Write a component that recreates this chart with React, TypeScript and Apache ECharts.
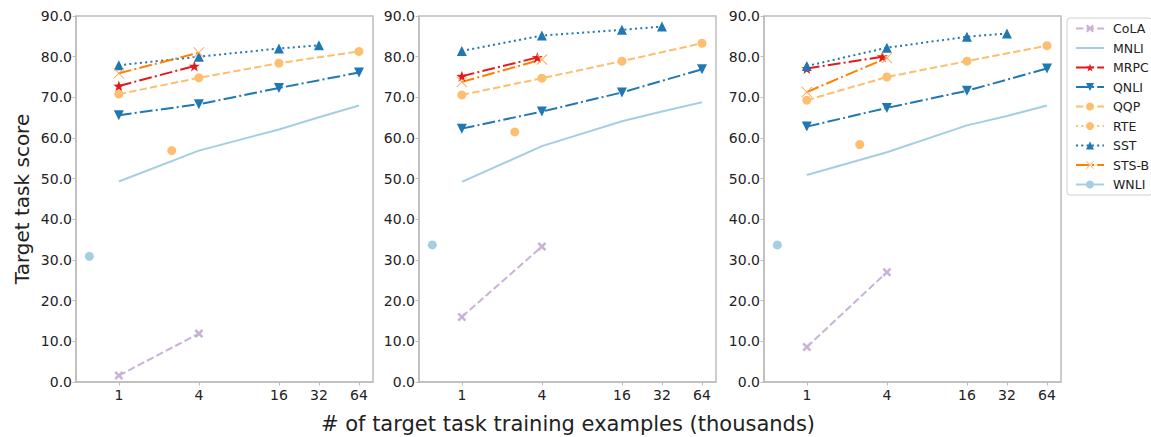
import React, { useEffect, useRef } from "react";
import * as echarts from "echarts";

// ---- data (thousands of examples on x, score on y) ----
const X_TICKS = [1, 4, 16, 32, 64];
const X_FULL = [1, 4, 16, 64];
const X_SST = [1, 4, 16, 32];
const X_MNLI = [1, 4, 16, 32, 64];
const X_MRPC = [1, 3.7];
const X_SHORT = [1, 4];
const X_RTE = [2.5];
const X_WNLI = [0.6];

const TASKS = ["CoLA", "MNLI", "MRPC", "QNLI", "QQP", "RTE", "SST", "STS-B", "WNLI"];

const COLA = [[1.6, 11.9], [16.0, 33.3], [8.6, 27.0]];
const MNLI = [[49.3, 56.9, 62.1, 65.1, 68.0], [49.2, 58.0, 64.1, 66.5, 68.8], [50.9, 56.5, 63.1, 65.4, 68.0]];
const MRPC = [[72.8, 77.7], [75.2, 79.8], [77.1, 80.0]];
const QNLI = [[65.6, 68.3, 72.3, 76.1], [62.3, 66.5, 71.2, 76.9], [62.8, 67.4, 71.6, 77.1]];
const QQP = [[70.8, 74.8, 78.4, 81.3], [70.6, 74.7, 78.9, 83.3], [69.3, 75.0, 78.9, 82.7]];
const RTE = [[56.9], [61.5], [58.4]];
const SST = [[77.9, 80.0, 82.0, 82.8], [81.4, 85.2, 86.6, 87.4], [77.7, 82.2, 84.9, 85.7]];
const STSB = [[75.9, 81.0], [73.8, 79.3], [71.3, 79.7]];
const WNLI = [[30.9], [33.7], [33.7]];

const FONT = "DejaVu Sans";
const AXIS_COLOR = "#bdbdbd";
const TEXT_COLOR = "#222";

const STAR = "path://M0,-10 L2.35,-3.24 L9.51,-3.09 L3.8,1.24 L5.88,8.09 L0,4 L-5.88,8.09 L-3.8,1.24 L-9.51,-3.09 L-2.35,-3.24 Z";
const FAT_X = "path://M-3,-5 L0,-2 L3,-5 L5,-3 L2,0 L5,3 L3,5 L0,2 L-3,5 L-5,3 L-2,0 L-5,-3 Z";
const THIN_X = "path://M-5,-4.4 L-4.4,-5 L0,-0.6 L4.4,-5 L5,-4.4 L0.6,0 L5,4.4 L4.4,5 L0,0.6 L-4.4,5 L-5,4.4 L-0.6,0 Z";
const LINE_ICON = "path://M0,0 L28,0 L28,2 L0,2 Z";

const DASHED = [7.4, 3.2];
const DASHDOT = [12.8, 3.2, 2, 3.2];
const DOTTED = [2, 3.3];

type Style = {
  name: string;
  xs: number[];
  vals: number[][];
  color: string;
  markColor?: string;
  dash: any;
  symbol: string;
  size: number;
  rotate?: number;
};

const STYLES: Style[] = [
  { name: "CoLA", xs: X_SHORT, vals: COLA, color: "#cab2d6", dash: DASHED, symbol: FAT_X, size: 9 },
  { name: "MNLI", xs: X_MNLI, vals: MNLI, color: "#a6cee3", dash: "solid", symbol: "none", size: 0 },
  { name: "MRPC", xs: X_MRPC, vals: MRPC, color: "#e31a1c", dash: DASHDOT, symbol: STAR, size: 11 },
  { name: "QNLI", xs: X_FULL, vals: QNLI, color: "#1f78b4", dash: DASHDOT, symbol: "triangle", size: 10, rotate: 180 },
  { name: "QQP", xs: X_FULL, vals: QQP, color: "#fdbf6f", dash: DASHED, symbol: "circle", size: 9 },
  { name: "RTE", xs: X_RTE, vals: RTE, color: "#fdbf6f", dash: DOTTED, symbol: "circle", size: 9 },
  { name: "SST", xs: X_SST, vals: SST, color: "#1f78b4", dash: DOTTED, symbol: "triangle", size: 10 },
  { name: "STS-B", xs: X_SHORT, vals: STSB, color: "#ff7f00", markColor: "#fca85a", dash: DASHDOT, symbol: THIN_X, size: 11 },
  { name: "WNLI", xs: X_WNLI, vals: WNLI, color: "#a6cee3", dash: "solid", symbol: "circle", size: 9 },
];

const GRID_LEFTS = [76, 419, 764];
const GRID_W = 297;
const GRID_TOP = 16;
const GRID_H = 366;
const X_MIN = -1.07;
const X_MAX = 6.35;

export default function App() {
  const ref = useRef<HTMLDivElement>(null);
  useEffect(() => {
    document.body.style.margin = "0";
    if (!ref.current) return;
    const chart = echarts.init(ref.current, undefined, { renderer: "svg" });
    const tickVals = X_TICKS.map((t) => Math.log2(t));

    const grids = GRID_LEFTS.map((left) => ({
      left,
      top: GRID_TOP,
      width: GRID_W,
      height: GRID_H,
      show: true,
      borderColor: AXIS_COLOR,
      borderWidth: 1.5,
      backgroundColor: "transparent",
    }));

    const xAxes = GRID_LEFTS.map((_, i) => ({
      type: "value",
      gridIndex: i,
      min: X_MIN,
      max: X_MAX,
      axisLine: { show: true, onZero: false, lineStyle: { color: AXIS_COLOR, width: 1.5 } },
      splitLine: { show: false },
      axisTick: { show: true, customValues: tickVals, length: 3.5, lineStyle: { color: AXIS_COLOR, width: 1 } },
      axisLabel: {
        show: true,
        customValues: tickVals,
        formatter: (v: number) => String(Math.round(Math.pow(2, v))),
        fontFamily: FONT,
        fontSize: 14,
        color: TEXT_COLOR,
        margin: 6,
      },
    }));

    const yAxes = GRID_LEFTS.map((_, i) => ({
      type: "value",
      gridIndex: i,
      min: 0,
      max: 90,
      interval: 10,
      axisLine: { show: true, onZero: false, lineStyle: { color: AXIS_COLOR, width: 1.5 } },
      splitLine: { show: false },
      axisTick: { show: true, length: 3.5, lineStyle: { color: AXIS_COLOR, width: 1 } },
      axisLabel: {
        formatter: (v: number) => v.toFixed(1),
        fontFamily: FONT,
        fontSize: 14,
        color: TEXT_COLOR,
        margin: 4,
      },
    }));

    const series: any[] = [];
    STYLES.forEach((s) => {
      for (let p = 0; p < 3; p++) {
        series.push({
          type: "line",
          name: s.name,
          xAxisIndex: p,
          yAxisIndex: p,
          data: s.xs.map((x, i) => [Math.log2(x), s.vals[p][i]]),
          symbol: s.symbol,
          symbolSize: s.size,
          symbolRotate: s.rotate || 0,
          showSymbol: s.symbol !== "none",
          lineStyle: { color: s.color, width: 2, type: s.dash },
          itemStyle: { color: s.markColor || s.color },
          emphasis: { disabled: true },
        });
      }
    });

    const legendData = TASKS.map((t) =>
      t === "MNLI" ? { name: t, icon: LINE_ICON, itemStyle: { color: "#a6cee3" } } : { name: t }
    );

    chart.setOption({
      animation: false,
      grid: grids,
      xAxis: xAxes,
      yAxis: yAxes,
      series,
      legend: {
        data: legendData,
        orient: "vertical",
        left: 1067,
        top: 18,
        itemWidth: 28,
        itemHeight: 10,
        itemGap: 6.5,
        padding: [4, 3, 4, 8],
        borderColor: "#d0d0d0",
        borderWidth: 1,
        borderRadius: 3,
        backgroundColor: "#fff",
        textStyle: { fontFamily: FONT, fontSize: 12.5, color: TEXT_COLOR, padding: [0, 0, 0, 4] },
        selectedMode: false,
      },
      graphic: [
        {
          type: "text",
          x: 568,
          y: 424,
          style: {
            text: "# of target task training examples (thousands)",
            fontFamily: FONT,
            fontSize: 21,
            fill: TEXT_COLOR,
            textAlign: "center",
            textVerticalAlign: "middle",
          },
        },
        {
          type: "text",
          x: 22,
          y: 199,
          rotation: Math.PI / 2,
          style: {
            text: "Target task score",
            fontFamily: FONT,
            fontSize: 20,
            fill: TEXT_COLOR,
            textAlign: "center",
            textVerticalAlign: "middle",
          },
        },
      ],
    });
    return () => chart.dispose();
  }, []);
  return <div ref={ref} style={{ width: 1151, height: 437 }} />;
}
